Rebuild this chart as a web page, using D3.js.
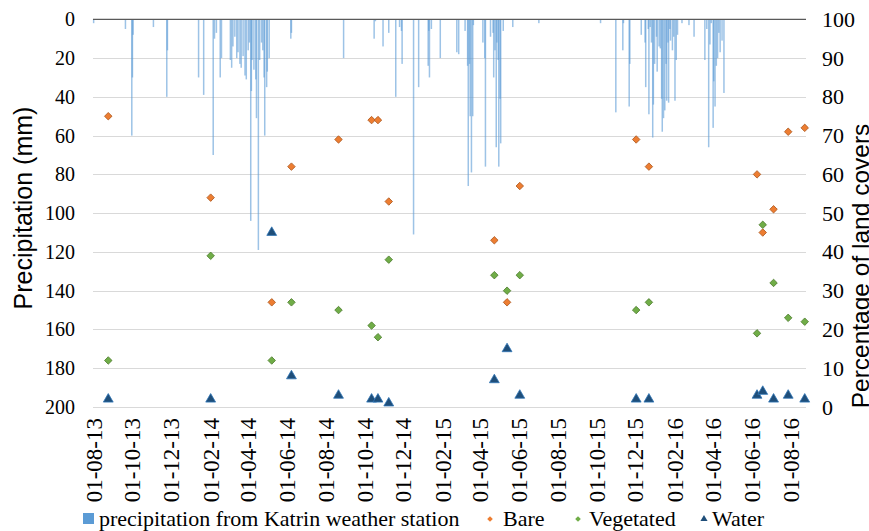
<!DOCTYPE html>
<meta charset="utf-8">
<head>
  <script src="https://d3js.org/d3.v7.min.js"></script>
  <style>
    body { margin: 0; background: #fff; }
    .serif { font-family: "Liberation Serif", "Times New Roman", serif; fill: #000; }
    .sans { font-family: "Liberation Sans", Arial, sans-serif; fill: #000; }
  </style>
</head>
<body>
<svg id="chart"></svg>
<script>
  // ---- data ----
  // daily precipitation (mm) from the Katrin weather station, only the wet days
  var precipDates = ["2013-08-02","2013-09-21","2013-10-01","2013-10-02","2013-10-03","2013-11-04","2013-11-25","2013-11-26",
    "2014-01-14","2014-01-22","2014-02-06","2014-02-08","2014-02-11","2014-02-17","2014-02-19",
    "2014-03-05","2014-03-07","2014-03-09","2014-03-12","2014-03-15","2014-03-17","2014-03-20","2014-03-22","2014-03-25","2014-03-28","2014-03-30",
    "2014-04-02","2014-04-04","2014-04-06","2014-04-07","2014-04-08","2014-04-11","2014-04-14","2014-04-15","2014-04-18","2014-04-20","2014-04-23","2014-04-25","2014-04-27","2014-04-28",
    "2014-05-01","2014-05-02","2014-05-05","2014-06-08","2014-06-09","2014-08-30",
    "2014-10-17","2014-10-19","2014-10-31","2014-11-09","2014-11-20","2014-11-26","2014-11-29","2014-11-30","2014-12-18","2014-12-26",
    "2015-01-10","2015-01-11","2015-01-12","2015-01-15","2015-01-29","2015-02-24","2015-02-27",
    "2015-03-09","2015-03-13","2015-03-14","2015-03-16","2015-03-17","2015-03-19","2015-03-21","2015-03-22",
    "2015-04-06","2015-04-09","2015-04-10","2015-04-18","2015-04-22","2015-04-23","2015-04-25","2015-04-27","2015-04-28","2015-04-30",
    "2015-05-01","2015-05-03","2015-05-04","2015-05-08","2015-05-23","2015-07-03","2015-10-08",
    "2015-11-01","2015-11-12","2015-11-13","2015-11-22","2015-11-23",
    "2015-12-11","2015-12-17","2015-12-18","2015-12-22","2015-12-23","2015-12-25","2015-12-27","2015-12-29","2015-12-30",
    "2016-01-01","2016-01-04","2016-01-05","2016-01-08","2016-01-10","2016-01-12","2016-01-13","2016-01-15","2016-01-17","2016-01-19","2016-01-20",
    "2016-01-22","2016-01-23","2016-01-25","2016-01-26","2016-01-29","2016-01-31","2016-02-02","2016-02-04","2016-02-06","2016-02-13","2016-02-24",
    "2016-03-03","2016-03-20","2016-03-23","2016-03-26","2016-03-28","2016-03-30",
    "2016-04-02","2016-04-03","2016-04-05","2016-04-07","2016-04-09","2016-04-11","2016-04-13","2016-04-16","2016-04-19"];
  var precipMm = [2,5,60,30,8,4,40,16,
    30,39,70,10,7,30,20,
    21,25,14,9,20,17,23,25,19,29,31,
    16,12,104,37,21,26,31,51,119,21,12,16,30,60,
    35,27,20,10,7,20,
    10,1,14,7,40,4,6,23,111,35,
    24,6,30,5,20,17,18,
    6,24,86,23,50,79,50,3,
    12,20,76,9,7,30,16,66,12,21,
    76,41,64,6,4,2,2,
    48,16,2,45,23,
    8,12,35,5,49,4,12,61,44,
    23,9,27,14,15,41,58,51,47,23,42,
    12,43,5,11,16,9,42,21,8,2,3,
    9,21,5,66,13,2,
    56,32,45,24,20,7,17,11,38];

  // land cover percentages per image date
  var coverDates = ["2013-08-25","2014-02-02","2014-05-09","2014-06-09","2014-08-22","2014-10-13","2014-10-23","2014-11-09",
    "2015-04-24","2015-05-14","2015-06-03","2015-12-03","2015-12-23",
    "2016-06-10","2016-06-19","2016-07-06","2016-07-29","2016-08-24"];
  var bare       = [75, 54, 27, 62, 69, 74, 74, 53, 43, 27, 57, 69, 62, 60, 45, 51, 71, 72];
  var vegetated  = [12, 39, 12, 27, 25, 21, 18, 38, 34, 30, 34, 25, 27, 19, 47, 32, 23, 22];
  var water      = [ 2,  2, 45,  8,  3,  2,  2,  1,  7, 15,  3,  2,  2,  3,  4,  2,  3,  2];

  var tickDates = ["2013-08-01","2013-10-01","2013-12-01","2014-02-01","2014-04-01","2014-06-01","2014-08-01","2014-10-01","2014-12-01",
    "2015-02-01","2015-04-01","2015-06-01","2015-08-01","2015-10-01","2015-12-01","2016-02-01","2016-04-01","2016-06-01","2016-08-01"];
  var precipTicks = [0, 20, 40, 60, 80, 100, 120, 140, 160, 180, 200];
  var pctTicks = [0, 10, 20, 30, 40, 50, 60, 70, 80, 90, 100];

  // ---- setup ----
  var W = 869, H = 531;
  var plotL = 93, plotR = 806, plotT = 19.3, plotB = 407;
  var parse = d3.timeParse("%Y-%m-%d");
  var fmt = d3.timeFormat("%d-%m-%y");

  var svg = d3.select("#chart").attr("width", W).attr("height", H);

  var x = d3.scaleTime()
    .domain([parse("2013-08-01"), parse("2016-08-26")])
    .range([plotL, plotR]);
  var yP = d3.scaleLinear().domain([0, 200]).range([plotT, plotB]);   // inverted precipitation
  var yC = d3.scaleLinear().domain([0, 100]).range([plotB, plotT]);   // percentage

  // gridlines
  svg.append("g")
    .selectAll("line").data(precipTicks.slice(1)).enter()
    .append("line")
      .attr("x1", plotL).attr("x2", plotR)
      .attr("y1", function(d){ return Math.round(yP(d)) + 0.5; })
      .attr("y2", function(d){ return Math.round(yP(d)) + 0.5; })
      .attr("stroke", "#d9d9d9").attr("stroke-width", 1);

  // precipitation bars hanging from the top
  var rain = precipDates.map(function(d, i){ return {date: parse(d), val: precipMm[i]}; });
  svg.append("g")
    .selectAll("rect").data(rain).enter()
    .append("rect")
      .attr("x", function(d){ return x(d.date) - 0.75; })
      .attr("y", yP(0))
      .attr("width", 1.5)
      .attr("height", function(d){ return yP(d.val) - yP(0); })
      .attr("fill", "#5b9bd5")
      .attr("opacity", 0.6);

  // top axis line
  svg.append("line")
    .attr("x1", plotL).attr("x2", plotR)
    .attr("y1", plotT).attr("y2", plotT)
    .attr("stroke", "#595959").attr("stroke-width", 1.3);

  // left axis (precipitation)
  var yAxisL = svg.append("g")
    .attr("transform", "translate(" + (plotL - 18) + ",0)")
    .call(d3.axisLeft(yP).tickValues(precipTicks).tickSize(0).tickPadding(0));
  yAxisL.select(".domain").remove();
  yAxisL.selectAll("text").attr("class", "serif").style("font-size", "20px");

  // right axis (percentage)
  var yAxisR = svg.append("g")
    .attr("transform", "translate(" + (plotR + 16) + ",0)")
    .call(d3.axisRight(yC).tickValues(pctTicks).tickSize(0).tickPadding(0));
  yAxisR.select(".domain").remove();
  yAxisR.selectAll("text").attr("class", "serif").style("font-size", "22px");

  // bottom date labels
  var xAxis = svg.append("g")
    .attr("transform", "translate(0," + (plotB + 11) + ")")
    .call(d3.axisBottom(x).tickValues(tickDates.map(parse)).tickFormat(fmt).tickSize(0).tickPadding(0));
  xAxis.select(".domain").remove();
  xAxis.selectAll("text")
    .attr("class", "serif")
    .style("font-size", "23px")
    .style("text-anchor", "end")
    .attr("dx", 0)
    .attr("dy", "0.35em")
    .attr("y", 0)
    .attr("transform", "rotate(-90)");

  // axis titles
  svg.append("text")
    .attr("class", "sans")
    .attr("transform", "translate(32,208) rotate(-90)")
    .attr("text-anchor", "middle")
    .style("font-size", "25px")
    .text("Precipitation (mm)");
  svg.append("text")
    .attr("class", "sans")
    .attr("transform", "translate(869,266) rotate(-90)")
    .attr("text-anchor", "middle")
    .style("font-size", "24.5px")
    .text("Percentage of land covers");

  // land cover markers
  var diamond = d3.symbol().type(d3.symbolSquare).size(28);
  var tri = d3.symbol().type(d3.symbolTriangle).size(42);

  function drawSeries(values, path, fill, stroke, rot) {
    svg.append("g")
      .selectAll("path").data(values).enter()
      .append("path")
        .attr("d", path)
        .attr("transform", function(d, i){
          return "translate(" + x(parse(coverDates[i])) + "," + yC(d) + ")" + (rot ? " rotate(45)" : "");
        })
        .attr("fill", fill)
        .attr("stroke", stroke)
        .attr("stroke-width", 0.8);
  }
  drawSeries(bare, diamond, "#ed7d31", "#ae5a21", true);
  drawSeries(vegetated, diamond, "#70ad47", "#507e32", true);
  drawSeries(water, tri, "#1f4e79", "#2e75b6", false);

  // legend
  var lg = svg.append("g").attr("transform", "translate(0,526)");
  lg.append("rect").attr("x", 83).attr("y", -13).attr("width", 11).attr("height", 11).attr("fill", "#5b9bd5");
  lg.append("text").attr("class", "serif").attr("x", 99).style("font-size", "22px")
    .text("precipitation from Katrin weather station");
  lg.append("path").attr("d", d3.symbol().type(d3.symbolSquare).size(16)())
    .attr("transform", "translate(490,-7) rotate(45)").attr("fill", "#ed7d31");
  lg.append("text").attr("class", "serif").attr("x", 503).style("font-size", "22px").text("Bare");
  lg.append("path").attr("d", d3.symbol().type(d3.symbolSquare).size(16)())
    .attr("transform", "translate(578,-7) rotate(45)").attr("fill", "#70ad47");
  lg.append("text").attr("class", "serif").attr("x", 589).style("font-size", "22px").text("Vegetated");
  lg.append("path").attr("d", d3.symbol().type(d3.symbolTriangle).size(22)())
    .attr("transform", "translate(704,-7)").attr("fill", "#1f4e79");
  lg.append("text").attr("class", "serif").attr("x", 712).style("font-size", "22px").text("Water");
</script>
</body>
